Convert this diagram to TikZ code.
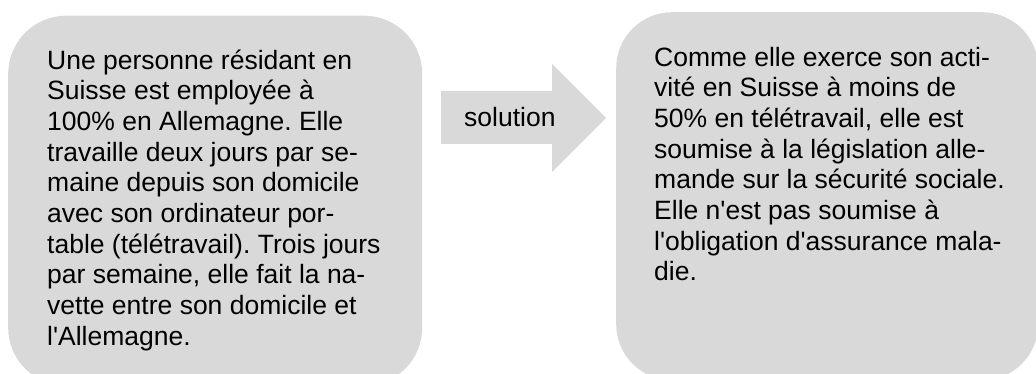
\documentclass[tikz,border=0pt]{standalone}
\usepackage{fontspec}
\setmainfont{Liberation Sans}[Ligatures=TeXOff]
\definecolor{panelgray}{RGB}{217,217,217}
\frenchspacing

\begin{document}
\begin{tikzpicture}[x=1pt,y=-1pt,
  panel/.style={fill=panelgray,inner sep=0pt,anchor=north west},
  body/.style={inner sep=0pt,anchor=base west,align=left,
    font=\fontsize{26.5}{30.7}\selectfont}]
  \useasboundingbox (0,0) rectangle (1036,374);
  % Two rounded panels: the case and its solution.
  \node[panel,rounded corners=58pt,minimum width=414pt,minimum height=370pt] (case) at (8,15.5) {};
  \node[panel,rounded corners=56pt,minimum width=422pt,minimum height=368pt] (answer) at (616,12) {};
  % Block arrow between the panels.
  \fill[panelgray] (441,91) -- (552,91) -- (552,64) -- (606,118)
    -- (552,172) -- (552,144) -- (441,144) -- cycle;
  \node[body] (solution) at (464,127) {solution};
  % Panel texts (anchored on the baseline of their last line).
  \node[body] (casetext) at (47,345.3) {Une personne résidant en\\
    Suisse est employée à\\
    100\% en Allemagne. Elle\\
    travaille deux jours par se-\\
    maine depuis son domicile\\
    avec son ordinateur por-\\
    table (télétravail). Trois jours\\
    par semaine, elle fait la na-\\
    vette entre son domicile et\\
    l'Allemagne.};
  \node[body] (answertext) at (654,280.9) {Comme elle exerce son acti-\\
    vité en Suisse à moins de\\
    50\% en télétravail, elle est\\
    soumise à la législation alle-\\
    mande sur la sécurité sociale.\\
    Elle n'est pas soumise à\\
    l'obligation d'assurance mala-\\
    die.};
\end{tikzpicture}
\end{document}
